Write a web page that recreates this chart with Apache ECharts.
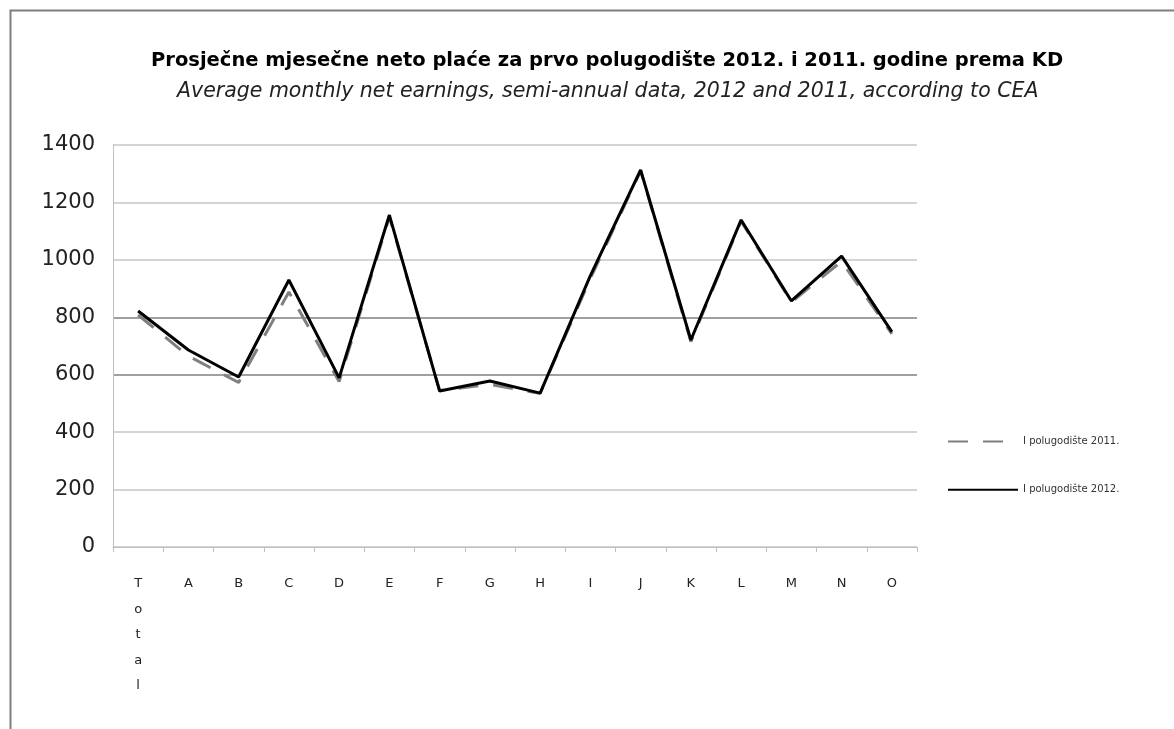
<!DOCTYPE html>
<html>
<head>
<meta charset="utf-8">
<script src="https://cdn.jsdelivr.net/npm/echarts@6/dist/echarts.min.js"></script>
<style>html,body{margin:0;padding:0;background:#fff;}#c{width:1174px;height:729px;}</style>
</head>
<body>
<div id="c"></div>
<script>
const categories = ['Total','A','B','C','D','E','F','G','H','I','J','K','L','M','N','O'];
const values2011 = [808, 665, 573, 888, 576, 1150, 545, 566, 535, 935, 1310, 715, 1135, 853, 995, 742];
const values2012 = [822, 686, 592, 930, 589, 1156, 543, 578, 536, 945, 1313, 721, 1139, 857, 1013, 749];
const yTicks = [0, 200, 400, 600, 800, 1000, 1200, 1400];
const seriesNames = ['I polugodište 2011.', 'I polugodište 2012.'];
const titleText = 'Prosječne mjesečne neto plaće za prvo polugodište 2012. i 2011. godine prema KD';
const subtitleText = 'Average monthly net earnings, semi-annual data, 2012 and 2011, according to CEA';

const chart = echarts.init(document.getElementById('c'), null, {renderer: 'canvas'});
const font = '"DejaVu Sans", sans-serif';
chart.setOption({
  animation: false,
  backgroundColor: '#fff',
  graphic: [{
    type: 'rect', left: 8, top: 8, shape: {x: 0, y: 0, width: 1300, height: 900},
    style: {fill: 'none', stroke: '#7f7f7f', lineWidth: 2}, z: -1
  }],
  title: [
    {
      text: titleText, left: 151, top: 51, padding: 0,
      textStyle: {fontFamily: font, fontWeight: 'bold', fontSize: 19.5, color: '#000'}
    },
    {
      text: subtitleText, left: 177, top: 82, padding: 0,
      textStyle: {fontFamily: font, fontStyle: 'italic', fontWeight: 'normal', fontSize: 20.5, color: '#222'}
    }
  ],
  legend: {
    orient: 'vertical', left: 942, top: 431, itemGap: 37,
    itemWidth: 70, itemHeight: 14,
    itemStyle: {opacity: 0},
    textStyle: {fontFamily: font, fontSize: 10, color: '#333'},
    data: [seriesNames[0], seriesNames[1]]
  },
  grid: {left: 113, right: 257, top: 145, bottom: 182, containLabel: false},
  xAxis: {
    type: 'category', data: categories, boundaryGap: true,
    axisLine: {lineStyle: {color: '#bfbfbf', width: 1}},
    axisTick: {show: true, length: 5, lineStyle: {color: '#bfbfbf'}},
    axisLabel: {
      interval: 0, margin: 24, color: '#222', fontFamily: font, fontSize: 13, lineHeight: 25.5,
      formatter: v => v.length > 1 ? v.split('').join('\n') : v
    }
  },
  yAxis: {
    type: 'value', min: 0, max: 1400, interval: 200,
    axisLine: {show: true, lineStyle: {color: '#bfbfbf'}},
    axisTick: {show: false},
    axisLabel: {margin: 18, color: '#222', fontFamily: font, fontSize: 21, formatter: v => String(v)},
    splitLine: {lineStyle: {color: ['#d4d4d4','#d4d4d4','#d4d4d4','#a0a0a0','#a0a0a0','#d4d4d4','#d4d4d4','#d4d4d4'], width: 2}}
  },
  series: [
    {
      name: seriesNames[0], type: 'line', data: values2011, symbol: 'none',
      lineStyle: {color: '#7f7f7f', width: 3, type: [20, 15]}, itemStyle: {color: '#7f7f7f'}, z: 2
    },
    {
      name: seriesNames[1], type: 'line', data: values2012, symbol: 'none',
      lineStyle: {color: '#000', width: 3}, itemStyle: {color: '#000'}, z: 3
    }
  ]
});
</script>
</body>
</html>
